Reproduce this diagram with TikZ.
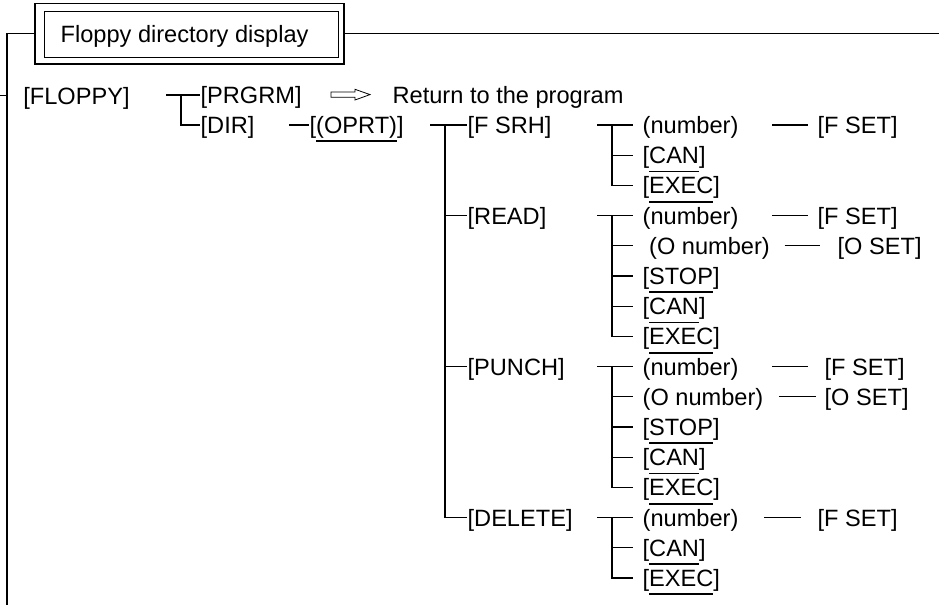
\documentclass[tikz,border=0pt]{standalone}
\usepackage{fontspec}
\setmainfont{Liberation Sans}
\newsavebox{\ubox}
\newcommand{\ubar}[1]{\sbox{\ubox}{#1}\rlap{\rule[-8.6pt]{\wd\ubox}{1.8pt}}\usebox{\ubox}}

\begin{document}
\begin{tikzpicture}[x=1pt, y=-1pt, line width=1.3pt,
    lbl/.style={inner sep=0pt, anchor=west, text height=17pt, text depth=0pt, font=\fontsize{23.6pt}{28pt}\selectfont},
    tick/.style={shorten >=9pt}]
  \useasboundingbox (0,0) rectangle (939,605);
  % title box
  \node[draw, line width=1.8pt, minimum width=309pt, minimum height=60.5pt, inner sep=0pt] (tout) at (189.5,33.8) {};
  \node[draw, line width=0.9pt, minimum width=294pt, minimum height=45.3pt, inner sep=0pt] (tin) at (191,34.3) {};
  \node[lbl] (title) at (60,34.3) {Floppy directory display};
  \coordinate (lbot) at (7,605);
  \coordinate (rend) at (939,33.8);
  \draw (tout.west) -| (lbot);
  \draw (tout.east) -- (rend);

  % FLOPPY
  \node[lbl] (floppy) at (22.7,95.5) {[FLOPPY]};
  \coordinate (lt) at (0,95.5);
  \draw (lt) -- (lt -| lbot);

  % PRGRM / DIR
  \node[lbl] (prgrm) at (200,95) {[PRGRM]};
  \node[lbl] (dir) at (200,125) {[DIR]};
  \coordinate (j1) at (181,95);
  \draw ([xshift=-15pt]j1) -- (prgrm.west);
  \draw (j1) |- (dir.west);
  \draw[line width=0.8pt] (331,92) -- (355,92) -- (355,89.3) -- (370,94.6) -- (355,100) -- (355,97.3) -- (331,97.3) -- cycle;
  \node[lbl] (ret) at (392,95) {Return to the program};

  % OPRT
  \node[lbl] (oprt) at (309,125) {[\ubar{(OPRT)}]};
  \draw ([xshift=-20pt]oprt.west) -- (oprt.west);

  % soft keys
  \coordinate (j3) at (445,125);
  \node[lbl] (fsrh) at (467,125) {[F SRH]};
  \node[lbl] (read) at (467,215.6) {[READ]};
  \node[lbl] (punch) at (467,366.6) {[PUNCH]};
  \node[lbl] (delete) at (467,517.6) {[DELETE]};
  \draw ([xshift=-15pt]j3) -- (fsrh.west);
  \draw (j3) |- (delete.west);
  \foreach \n in {read, punch}
    \draw (\n.west -| j3) -- (\n.west);

  % F SRH
  \node[lbl] (fs1) at (642,125) {(number)};
  \node[lbl] (fs2) at (642,155.2) {[\ubar{CAN}]};
  \node[lbl] (fs3) at (642,185.4) {[\ubar{EXEC}]};
  \node[lbl] (fsF) at (817,125) {[F SET]};
  % READ
  \node[lbl] (rd1) at (642,215.6) {(number)};
  \node[lbl] (rd2) at (642,245.8) {\ (O number)};
  \node[lbl] (rd3) at (642,276) {[\ubar{STOP}]};
  \node[lbl] (rd4) at (642,306.2) {[\ubar{CAN}]};
  \node[lbl] (rd5) at (642,336.4) {[\ubar{EXEC}]};
  \node[lbl] (rdF) at (817,215.6) {[F SET]};
  \node[lbl] (rdO) at (837,245.8) {[O SET]};
  % PUNCH
  \node[lbl] (pu1) at (642,366.6) {(number)};
  \node[lbl] (pu2) at (642,396.8) {(O number)};
  \node[lbl] (pu3) at (642,427) {[\ubar{STOP}]};
  \node[lbl] (pu4) at (642,457.2) {[\ubar{CAN}]};
  \node[lbl] (pu5) at (642,487.4) {[\ubar{EXEC}]};
  \node[lbl] (puF) at (824,366.6) {[F SET]};
  \node[lbl] (puO) at (824,396.8) {[O SET]};
  % DELETE
  \node[lbl] (de1) at (642,517.6) {(number)};
  \node[lbl] (de2) at (642,547.8) {[\ubar{CAN}]};
  \node[lbl] (de3) at (642,578) {[\ubar{EXEC}]};
  \node[lbl] (deF) at (817,517.6) {[F SET]};

  \coordinate (gf) at (612,125);
  \coordinate (gr) at (612,215.6);
  \coordinate (gp) at (612,366.6);
  \coordinate (gd) at (612,517.6);
  \draw[tick] ([xshift=-15pt]gf) -- (fs1.west);
  \draw[tick] (gf) |- (fs3.west);
  \draw[tick] (fs2.west -| gf) -- (fs2.west);
  \draw[tick] ([xshift=-15pt]gr) -- (rd1.west);
  \draw[tick] (gr) |- (rd5.west);
  \foreach \n in {rd2, rd3, rd4}
    \draw[tick] (\n.west -| gr) -- (\n.west);
  \draw[tick] ([xshift=-15pt]gp) -- (pu1.west);
  \draw[tick] (gp) |- (pu5.west);
  \foreach \n in {pu2, pu3, pu4}
    \draw[tick] (\n.west -| gp) -- (\n.west);
  \draw[tick] ([xshift=-15pt]gd) -- (de1.west);
  \draw[tick] (gd) |- (de3.west);
  \draw[tick] (de2.west -| gd) -- (de2.west);

  % settings
  \draw[shorten <=33pt, shorten >=9pt] (fs1.east) -- (fsF.west);
  \draw[shorten <=33pt, shorten >=9pt] (rd1.east) -- (rdF.west);
  \draw[shorten <=14pt, shorten >=17pt] (rd2.east) -- (rdO.west);
  \draw[shorten <=33pt, shorten >=16pt] (pu1.east) -- (puF.west);
  \draw[shorten <=15pt, shorten >=8pt] (pu2.east) -- (puO.west);
  \draw[shorten <=25pt, shorten >=16pt] (de1.east) -- (deF.west);
\end{tikzpicture}
\end{document}
